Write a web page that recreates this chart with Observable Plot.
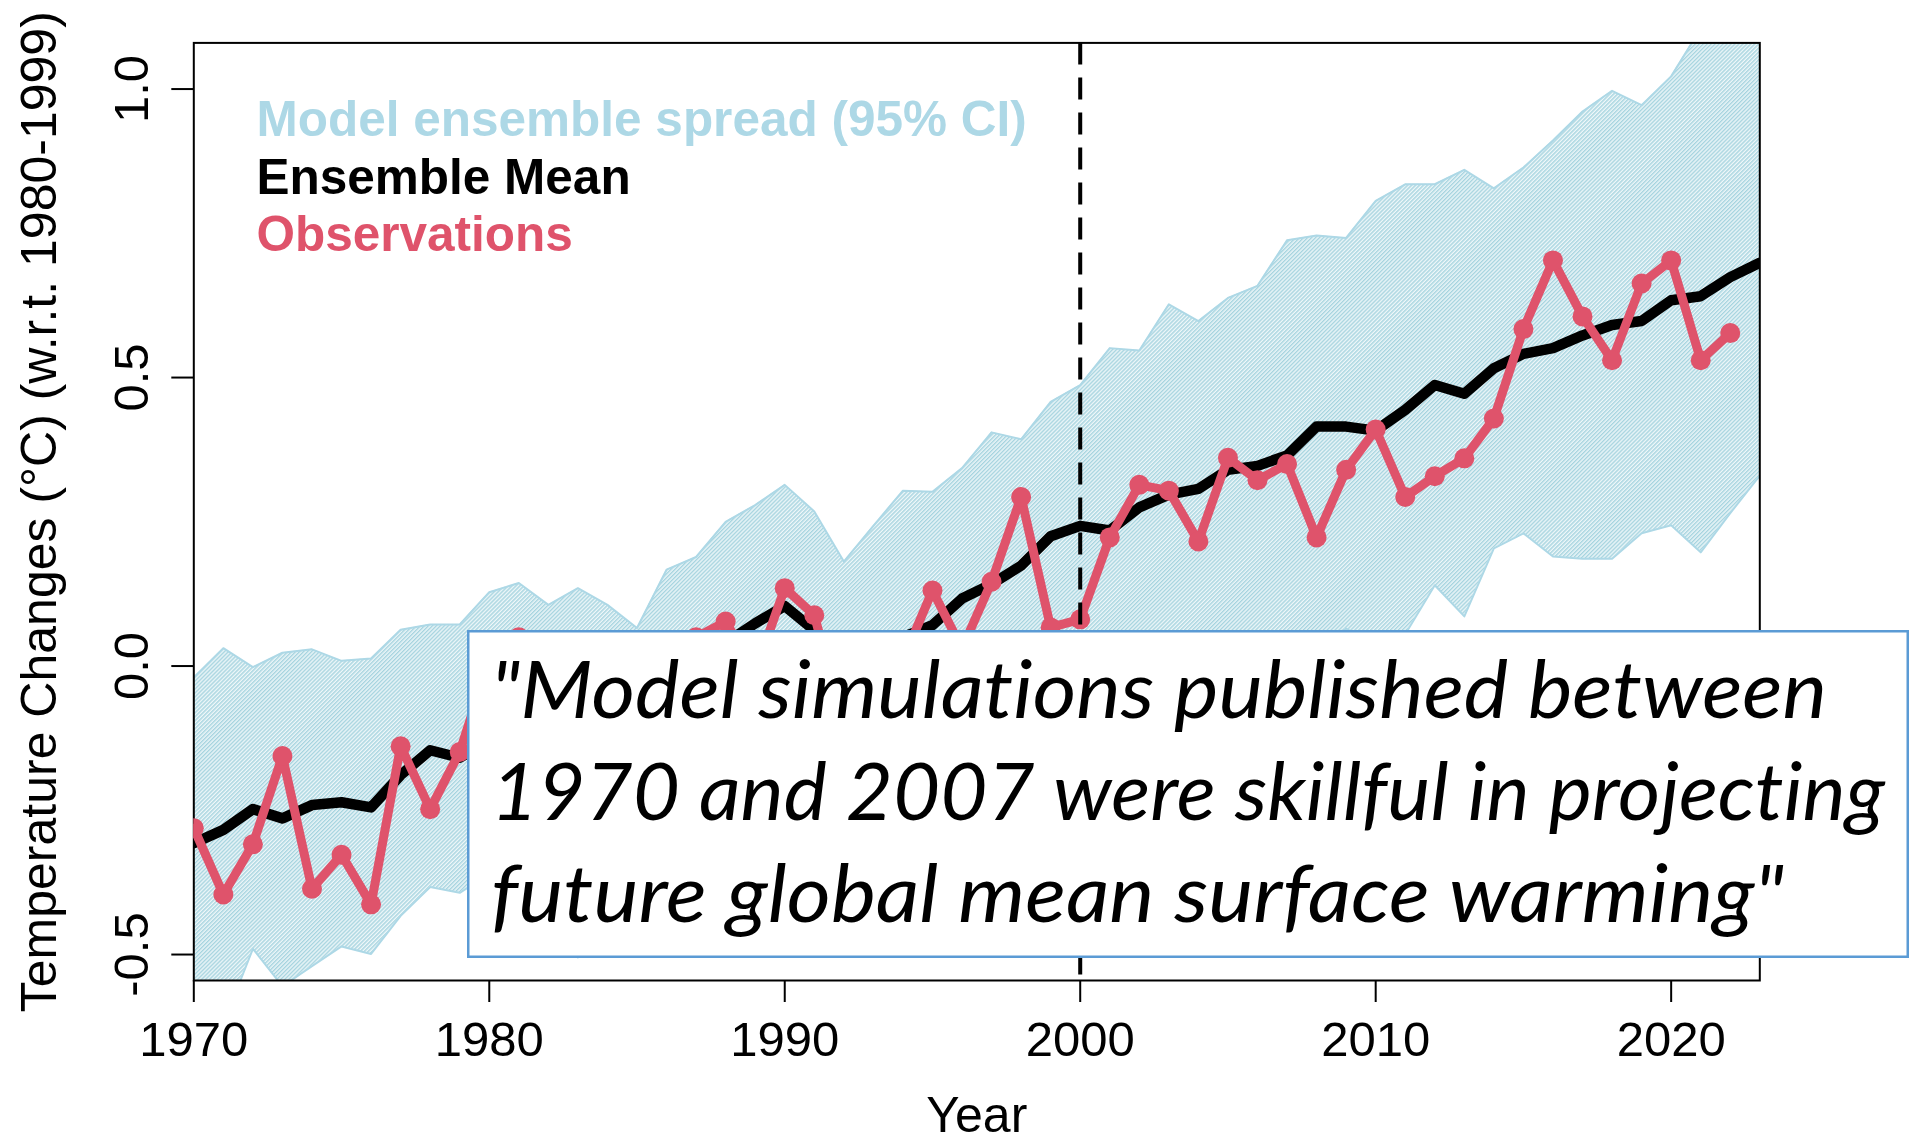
<!DOCTYPE html>
<html><head><meta charset="utf-8">
<script src="https://cdn.jsdelivr.net/npm/d3@7"></script>
<script src="https://cdn.jsdelivr.net/npm/@observablehq/plot@0.6"></script>
<style>
html,body{margin:0;padding:0;background:#fff;}
#wrap{position:relative;width:1916px;height:1146px;overflow:hidden;background:#fff;}
#quote{position:absolute;left:467px;top:630px;width:1442px;height:328px;}
#quote text{font-variant-ligatures:none;font-feature-settings:"liga" 0,"clig" 0;}
</style></head><body><div id="wrap"></div>
<script>
// ---- data ----
const years = [1970,1971,1972,1973,1974,1975,1976,1977,1978,1979,
  1980,1981,1982,1983,1984,1985,1986,1987,1988,1989,
  1990,1991,1992,1993,1994,1995,1996,1997,1998,1999,
  2000,2001,2002,2003,2004,2005,2006,2007,2008,2009,
  2010,2011,2012,2013,2014,2015,2016,2017,2018,2019,
  2020,2021,2022,2023];

const ensembleMean = [-0.307,-0.284,-0.248,-0.264,-0.241,-0.236,-0.245,-0.189,-0.146,-0.159,
  -0.13,-0.10,-0.11,-0.08,-0.07,-0.06,-0.02,0.01,0.04,0.074,
  0.104,0.062,0.02,0.03,0.05,0.071,0.117,0.142,0.174,0.225,
  0.243,0.235,0.275,0.297,0.307,0.340,0.347,0.365,0.415,0.415,
  0.408,0.444,0.487,0.472,0.516,0.541,0.551,0.573,0.591,0.598,
  0.634,0.641,0.674,0.699];

const spreadUpper = [-0.02,0.031,-0.002,0.023,0.029,0.009,0.013,0.063,0.072,0.072,
  0.128,0.144,0.106,0.135,0.106,0.066,0.167,0.189,0.25,0.279,
  0.314,0.268,0.181,0.243,0.304,0.302,0.343,0.405,0.393,0.458,
  0.487,0.551,0.547,0.627,0.598,0.638,0.659,0.738,0.746,0.742,
  0.806,0.835,0.835,0.860,0.828,0.864,0.911,0.961,0.997,0.972,
  1.022,1.105,1.12,1.16];

const spreadLower = [-0.60,-0.62,-0.49,-0.555,-0.52,-0.486,-0.499,-0.433,-0.383,-0.393,
  -0.36,-0.37,-0.42,-0.505,-0.44,-0.40,-0.33,-0.30,-0.25,-0.20,
  -0.16,-0.17,-0.25,-0.20,-0.17,-0.14,-0.10,-0.08,-0.09,-0.04,
  -0.02,-0.06,-0.03,0.00,-0.02,0.01,0.02,0.00,0.04,0.065,
  0.035,0.055,0.14,0.086,0.204,0.23,0.19,0.186,0.186,0.23,
  0.244,0.197,0.265,0.33];

const obsYears = years.slice(0, 53); // 1970-2022
const observations = [-0.281,-0.396,-0.309,-0.156,-0.386,-0.327,-0.413,-0.139,-0.248,-0.149,
  0.01,0.05,-0.12,0.04,-0.12,-0.13,-0.06,0.05,0.077,-0.01,
  0.135,0.088,-0.10,-0.07,0.01,0.131,0.03,0.146,0.293,0.067,
  0.081,0.223,0.314,0.304,0.216,0.361,0.322,0.350,0.223,0.340,
  0.410,0.293,0.329,0.360,0.429,0.584,0.703,0.606,0.530,0.663,
  0.703,0.530,0.577];

const xTicks = [1970,1980,1990,2000,2010,2020];
const yTicks = [-0.5,0.0,0.5,1.0];
const legendLabels = ["Model ensemble spread (95% CI)", "Ensemble Mean", "Observations"];
const legendColors = ["#ADD8E6", "#000000", "#DF536B"];
const splitYear = [2000];
const xTitle = "Year";
const yTitle = "Temperature Changes (\u00B0C) (w.r.t. 1980-1999)";
const quoteLines = ['"Model simulations published between', '1970 and 2007 were skillful in projecting', 'future global mean surface warming"'];

// ---- tables ----
const model = years.map((yr, i) => ({year: yr, mean: ensembleMean[i], lower: spreadLower[i], upper: spreadUpper[i]}));
const obs = obsYears.map((yr, i) => ({year: yr, value: observations[i]}));

const defsMark = () => {
  const ns = "http://www.w3.org/2000/svg";
  const defs = document.createElementNS(ns, "defs");
  defs.innerHTML = '<pattern id="hatch" width="2.8" height="2.8" patternUnits="userSpaceOnUse" patternTransform="rotate(45)">' +
    '<rect width="2.8" height="2.8" fill="#eef7f9"></rect><rect width="1.4" height="2.8" fill="#a6d4df"></rect></pattern>';
  return defs;
};

const legendFont = 49.5;
const plot = Plot.plot({
  width: 1916,
  height: 1146,
  marginLeft: 193.3,
  marginRight: 156.7,
  marginTop: 42.4,
  marginBottom: 166,
  style: {fontFamily: "'Liberation Sans', Arial, Helvetica, sans-serif", background: "white", color: "black", overflow: "visible"},
  x: {domain: [1970, 2023], label: null},
  y: {domain: [-0.545, 1.08], label: null},
  marks: [
    defsMark,
    Plot.areaY(model, {x: "year", y1: "lower", y2: "upper", fill: "url(#hatch)", clip: true}),
    Plot.lineY(model, {x: "year", y: "upper", stroke: "#ADD8E6", strokeWidth: 2, clip: true}),
    Plot.lineY(model, {x: "year", y: "lower", stroke: "#ADD8E6", strokeWidth: 2, clip: true}),
    Plot.frame({stroke: "black", strokeWidth: 2}),
    Plot.axisX(xTicks, {tickSize: 22, tickPadding: 19, fontSize: 49, tickFormat: "d", strokeWidth: 2, label: null}),
    Plot.axisY(yTicks, {tickSize: 22, tickPadding: 24, fontSize: 49, tickRotate: -90, textAnchor: "middle", lineAnchor: "bottom", tickFormat: d => d.toFixed(1), strokeWidth: 2, label: null}),
    Plot.lineY(model, {x: "year", y: "mean", stroke: "black", strokeWidth: 10.5, strokeLinejoin: "round", strokeLinecap: "round", clip: true}),
    Plot.lineY(obs, {x: "year", y: "value", stroke: "#DF536B", strokeWidth: 9, strokeLinejoin: "round", strokeLinecap: "round", clip: true}),
    Plot.dot(obs, {x: "year", y: "value", r: 10, fill: "#DF536B", stroke: null, clip: true}),
    Plot.ruleX(splitYear, {stroke: "black", strokeWidth: 4, strokeDasharray: "22,13"}),
    Plot.text([legendLabels[0]], {frameAnchor: "top-left", dx: 62.7, dy: 92.6, lineAnchor: "bottom", textAnchor: "start", fontSize: legendFont, fontWeight: "bold", fill: legendColors[0]}),
    Plot.text([legendLabels[1]], {frameAnchor: "top-left", dx: 62.7, dy: 150.6, lineAnchor: "bottom", textAnchor: "start", fontSize: legendFont, fontWeight: "bold", fill: legendColors[1]}),
    Plot.text([legendLabels[2]], {frameAnchor: "top-left", dx: 62.7, dy: 207.6, lineAnchor: "bottom", textAnchor: "start", fontSize: legendFont, fontWeight: "bold", fill: legendColors[2]}),
    Plot.text([xTitle], {frameAnchor: "bottom", dy: 151, lineAnchor: "bottom", fontSize: 50}),
    Plot.text([yTitle], {frameAnchor: "left", dx: -137.8, rotate: -90, textAnchor: "middle", lineAnchor: "bottom", fontSize: 50})
  ]
});

const wrap = document.getElementById("wrap");
wrap.appendChild(plot);

// ---- quote box overlay ----
const ns = "http://www.w3.org/2000/svg";
const q = document.createElement("div");
q.id = "quote";
const qs = document.createElementNS(ns, "svg");
qs.setAttribute("width", 1442);
qs.setAttribute("height", 328);
const rect = document.createElementNS(ns, "rect");
rect.setAttribute("x", 1.25); rect.setAttribute("y", 1.25);
rect.setAttribute("width", 1439.5); rect.setAttribute("height", 325.5);
rect.setAttribute("fill", "white"); rect.setAttribute("stroke", "#5B9BD5"); rect.setAttribute("stroke-width", 2.5);
qs.appendChild(rect);
const lineBase = [88.3, 190, 291.7];
const lineLen = [1336, 1394, 1293];
quoteLines.forEach((s, i) => {
  const t = document.createElementNS(ns, "text");
  t.setAttribute("x", 24);
  t.setAttribute("y", lineBase[i]);
  t.setAttribute("textLength", lineLen[i]);
  t.setAttribute("lengthAdjust", "spacingAndGlyphs");
  t.setAttribute("font-family", "Lato, 'Open Sans', sans-serif");
  t.setAttribute("font-style", "italic");
  t.setAttribute("font-size", 80);
  t.setAttribute("fill", "black");
  t.textContent = s;
  qs.appendChild(t);
});
q.appendChild(qs);
wrap.appendChild(q);
</script>
</body></html>
